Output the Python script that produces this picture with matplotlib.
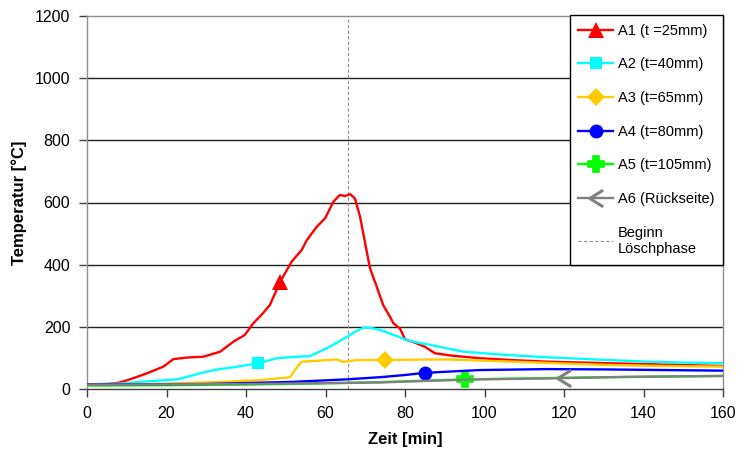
import matplotlib
matplotlib.use("Agg")
import matplotlib.pyplot as plt
from matplotlib.path import Path

plt.rcParams['font.family'] = ['Liberation Sans', 'DejaVu Sans']

# ---- data ----
t_a1 = [0, 5, 8, 10.8, 15, 19.2, 21.7, 25, 29.3, 33.5, 36.8, 39.7, 41.8, 44, 46, 48.6, 51.5, 54,
        55.3, 57.8, 59.9, 62, 63.6, 64.9, 66.2, 67.4, 68.7, 69.9, 71.2, 72.9, 74.5, 76.2, 77.1,
        78.7, 80, 82.9, 85, 87.5, 92, 98.9, 107, 115.6, 128, 140.8, 150, 160]
v_a1 = [15, 16, 20, 31, 50, 72, 96, 101, 104, 120, 152, 174, 211, 240, 270, 345, 410, 447,
        479, 522, 549, 603, 624, 621, 627, 613, 554, 474, 388, 329, 270, 233, 211,
        195, 160, 147, 136, 115, 107, 99, 93, 88, 84, 80, 77, 74]

t_a2 = [0, 8, 13.3, 18, 22.6, 26, 30.1, 33, 36.8, 43.1, 47.7, 52, 56.1, 58, 60.3, 63, 66.2, 68,
        69.5, 71.2, 73.7, 75.4, 78, 80.4, 82.1, 86.3, 90, 94.7, 105, 115.6, 128, 140.8, 150, 160]
v_a2 = [15, 17, 23, 27, 31, 42, 56, 63, 70, 83, 99, 103, 106, 117, 131, 150, 174, 188,
        197, 197, 190, 182, 170, 158, 152, 142, 132, 120, 110, 102, 95, 88, 85, 83]

t_a3 = [0, 20, 34.3, 45, 51.1, 52.3, 54, 58, 62.8, 64.5, 67.8, 75, 85.9, 90.5, 107, 120, 132, 145, 160]
v_a3 = [15, 17, 23, 30, 38, 61, 88, 91, 95, 87, 93, 93, 95, 95, 88, 82, 77, 74, 72]

t_a4 = [0, 30, 51.9, 65.3, 73.7, 80, 85, 98.9, 115.6, 130, 145, 160]
v_a4 = [15, 16, 23, 31, 38, 45, 52, 61, 64, 63, 61, 59]

t_a5 = [0, 20, 40, 60, 73.7, 85, 95, 110, 125, 140, 160]
v_a5 = [11, 12, 14, 18, 22, 27, 31, 34, 37, 39, 42]

t_a6 = [0, 20, 40, 60, 73.7, 85, 98.9, 110, 120, 135, 150, 160]
v_a6 = [14, 15, 16, 19, 21, 26, 31, 33, 35, 39, 41, 42]

marker_times = [48.6, 43.1, 75, 85, 95, 120]
labels = ["A1 (t =25mm)", "A2 (t=40mm)", "A3 (t=65mm)", "A4 (t=80mm)",
          "A5 (t=105mm)", "A6 (Rückseite)"]
t_loesch = 65.7
loesch_label = "Beginn\nLöschphase"

x_ticks = list(range(0, 161, 20))
y_ticks = list(range(0, 1201, 200))

# ---- figure ----
fig = plt.figure(figsize=(7.41, 4.57), dpi=100)
ax = fig.add_axes([87/741, 1-389/457, (723-87)/741, (389-16)/457])

chev = Path([(0.8, 1.0), (-0.8, 0.0), (0.8, -1.0)],
            [Path.MOVETO, Path.LINETO, Path.LINETO])

series = [
    (t_a1, v_a1, '#FF0000', '^', 11, 0),
    (t_a2, v_a2, '#00FFFF', 's', 9, 1),
    (t_a3, v_a3, '#FFCC00', 'D', 9, 2),
    (t_a4, v_a4, '#0000FF', 'o', 10, 3),
    (t_a6, v_a6, '#808080', chev, 12, 5),
    (t_a5, v_a5, '#00FF00', 'P', 11, 4),
]
handles = [None]*6
for tt, vv, col, mk, ms, idx in series:
    mi = tt.index(marker_times[idx])
    if mk is chev:
        kw = dict(markerfacecolor='none', markeredgewidth=2.2)
        z = 3
    elif mk == 'P':
        kw = dict(markeredgewidth=1.2, markeredgecolor=col)
        z = 2.9
    else:
        kw = dict(markeredgewidth=0)
        z = 3
    ln, = ax.plot(tt, vv, color=col, lw=1.7, marker=mk, ms=ms, markevery=[mi],
                  label=labels[idx], zorder=z, **kw)
    handles[idx] = ln

vl = ax.axvline(t_loesch, color='#909090', lw=0.8, ls=(0, (3, 2)), zorder=2, label=loesch_label)
handles.append(vl)

ax.set_xlim(0, 160)
ax.set_ylim(0, 1200)
ax.set_xticks(x_ticks)
ax.set_yticks(y_ticks)
ax.tick_params(axis='both', labelsize=11.5, colors='#404040', labelcolor='black',
               length=6, width=1, direction='out')
ax.tick_params(axis='x', pad=6)
ax.tick_params(axis='y', pad=6)
for y in y_ticks[1:-1]:
    ax.axhline(y, color='#202020', lw=1, zorder=1)

for s in ['left', 'top', 'right']:
    ax.spines[s].set_color('#909090')
    ax.spines[s].set_linewidth(1)
ax.spines['bottom'].set_color('#404040')
ax.spines['bottom'].set_linewidth(1)

ax.set_xlabel("Zeit [min]", fontsize=12, fontweight='bold', labelpad=8)
ax.set_ylabel("Temperatur [°C]", fontsize=12, fontweight='bold', labelpad=6)

leg = ax.legend(handles=handles, loc='upper right', bbox_to_anchor=(1.0, 1.003),
                borderaxespad=0, fontsize=10.5, frameon=True, fancybox=False,
                edgecolor='black', framealpha=1, labelspacing=1.35, handlelength=2.4,
                handletextpad=0.3, borderpad=0.6)
leg.get_frame().set_linewidth(1)
leg.set_zorder(5)

fig.savefig("out.png", dpi=100)
